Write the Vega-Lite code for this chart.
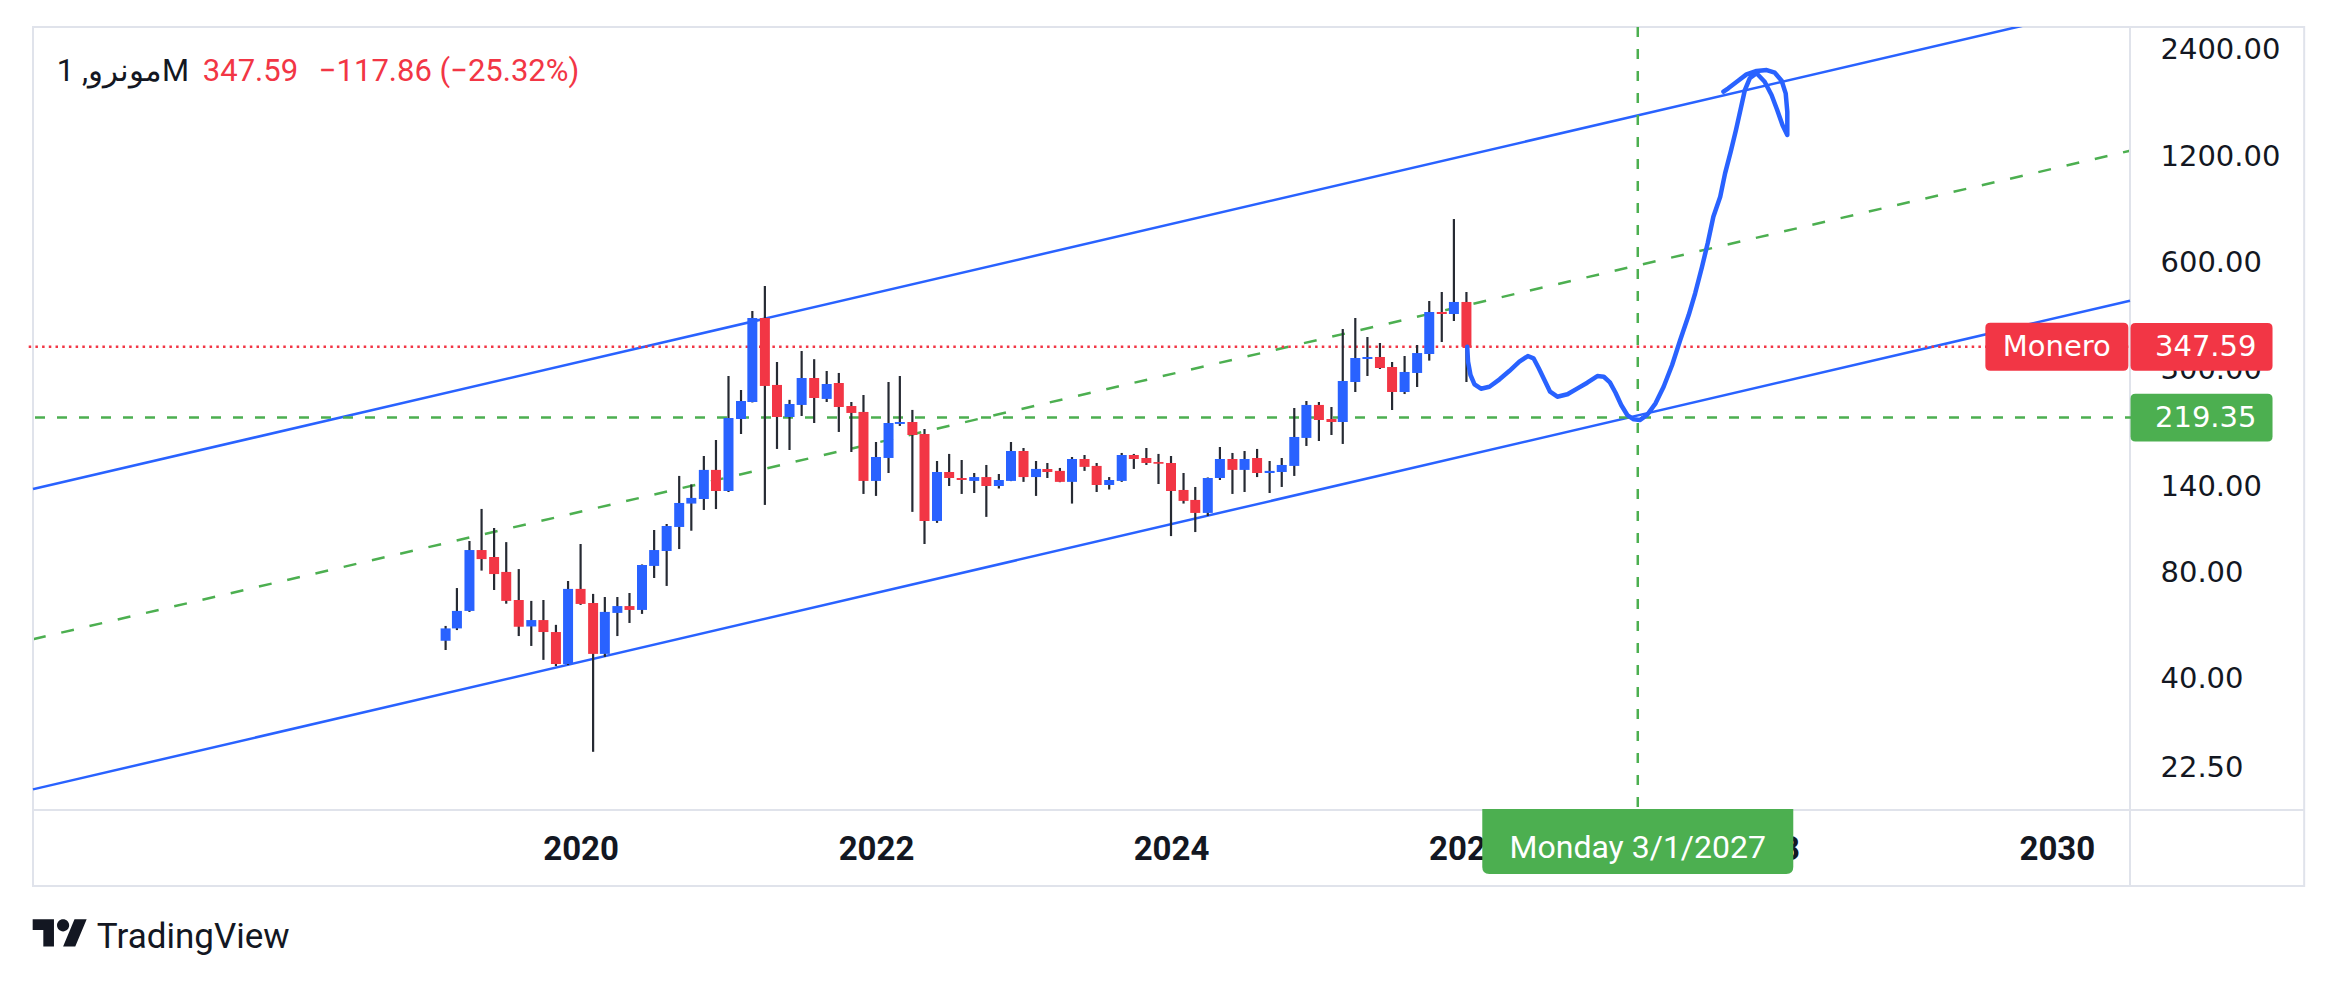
{
  "$schema": "https://vega.github.io/schema/vega-lite/v6.json",
  "width": 2107,
  "height": 783,
  "autosize": {"type": "none"},
  "padding": {"left": 28, "top": 27, "right": 203, "bottom": 172},
  "background": "#ffffff",
  "config": {"view": {"stroke": null}},
  "datasets": {
    "candles": [
      {"date":"2019-02-01","o":51.3,"h":56.5,"l":48.3,"c":55.6},
      {"date":"2019-03-01","o":55.6,"h":72.3,"l":55.0,"c":62.3},
      {"date":"2019-04-01","o":62.3,"h":98.2,"l":61.9,"c":92.6},
      {"date":"2019-05-01","o":92.6,"h":121.0,"l":81.0,"c":87.3},
      {"date":"2019-06-01","o":88.5,"h":106.9,"l":71.4,"c":79.2},
      {"date":"2019-07-01","o":80.3,"h":97.5,"l":65.3,"c":66.5},
      {"date":"2019-08-01","o":66.9,"h":81.8,"l":52.9,"c":56.2},
      {"date":"2019-09-01","o":56.3,"h":66.5,"l":49.6,"c":58.7},
      {"date":"2019-10-01","o":58.7,"h":66.9,"l":45.3,"c":54.3},
      {"date":"2019-11-01","o":54.3,"h":56.9,"l":43.5,"c":44.1},
      {"date":"2019-12-01","o":44.1,"h":75.7,"l":43.8,"c":71.9},
      {"date":"2020-01-01","o":71.9,"h":96.3,"l":64.8,"c":65.2},
      {"date":"2020-02-01","o":65.6,"h":69.6,"l":24.9,"c":47.1},
      {"date":"2020-03-01","o":47.1,"h":68.2,"l":46.2,"c":61.9},
      {"date":"2020-04-01","o":61.5,"h":68.2,"l":52.9,"c":64.3},
      {"date":"2020-05-01","o":64.3,"h":70.0,"l":57.6,"c":62.7},
      {"date":"2020-06-01","o":62.7,"h":84.3,"l":61.1,"c":84.0},
      {"date":"2020-07-01","o":83.5,"h":105.5,"l":77.2,"c":92.6},
      {"date":"2020-08-01","o":92.0,"h":109.7,"l":73.3,"c":108.3},
      {"date":"2020-09-01","o":107.6,"h":150.0,"l":93.2,"c":125.8},
      {"date":"2020-10-01","o":125.3,"h":142.0,"l":105.0,"c":130.0},
      {"date":"2020-11-01","o":129.1,"h":170.8,"l":120.2,"c":156.0},
      {"date":"2020-12-01","o":156.0,"h":189.5,"l":120.9,"c":136.0},
      {"date":"2021-01-01","o":136.0,"h":287.5,"l":135.1,"c":218.7},
      {"date":"2021-02-01","o":217.3,"h":262.4,"l":197.1,"c":244.3},
      {"date":"2021-03-01","o":242.7,"h":438.8,"l":242.0,"c":419.3},
      {"date":"2021-04-01","o":419.3,"h":516.4,"l":124.2,"c":269.4},
      {"date":"2021-05-01","o":271.2,"h":314.9,"l":178.8,"c":220.1},
      {"date":"2021-06-01","o":220.1,"h":246.1,"l":177.6,"c":239.6},
      {"date":"2021-07-01","o":238.1,"h":338.2,"l":221.6,"c":283.7},
      {"date":"2021-08-01","o":283.7,"h":320.7,"l":211.7,"c":249.1},
      {"date":"2021-09-01","o":247.6,"h":297.0,"l":242.7,"c":272.9},
      {"date":"2021-10-01","o":274.7,"h":293.2,"l":199.7,"c":234.9},
      {"date":"2021-11-01","o":236.5,"h":242.7,"l":175.3,"c":226.0},
      {"date":"2021-12-01","o":227.5,"h":254.0,"l":133.4,"c":145.2},
      {"date":"2022-01-01","o":145.2,"h":187.1,"l":131.7,"c":169.7},
      {"date":"2022-02-01","o":168.6,"h":276.5,"l":152.9,"c":211.7},
      {"date":"2022-03-01","o":210.4,"h":287.5,"l":207.7,"c":213.1},
      {"date":"2022-04-01","o":213.1,"h":230.5,"l":118.7,"c":195.8},
      {"date":"2022-05-01","o":197.1,"h":203.6,"l":96.3,"c":111.9},
      {"date":"2022-06-01","o":111.9,"h":165.3,"l":110.5,"c":153.9},
      {"date":"2022-07-01","o":153.9,"h":173.1,"l":140.5,"c":148.0},
      {"date":"2022-08-01","o":148.0,"h":166.4,"l":133.4,"c":146.1},
      {"date":"2022-09-01","o":145.2,"h":152.9,"l":134.2,"c":148.9},
      {"date":"2022-10-01","o":148.9,"h":161.1,"l":114.9,"c":140.5},
      {"date":"2022-11-01","o":140.5,"h":151.9,"l":138.2,"c":146.1},
      {"date":"2022-12-01","o":145.2,"h":187.1,"l":145.0,"c":176.4},
      {"date":"2023-01-01","o":176.4,"h":179.9,"l":144.3,"c":148.9},
      {"date":"2023-02-01","o":148.9,"h":165.3,"l":131.7,"c":157.0},
      {"date":"2023-03-01","o":157.0,"h":163.2,"l":148.0,"c":153.9},
      {"date":"2023-04-01","o":155.0,"h":158.0,"l":144.0,"c":144.3},
      {"date":"2023-05-01","o":144.3,"h":169.7,"l":125.3,"c":167.5},
      {"date":"2023-06-01","o":167.5,"h":171.9,"l":155.0,"c":159.1},
      {"date":"2023-07-01","o":160.1,"h":163.2,"l":135.1,"c":141.4},
      {"date":"2023-08-01","o":141.4,"h":148.9,"l":137.3,"c":146.1},
      {"date":"2023-09-01","o":145.2,"h":174.2,"l":144.3,"c":171.9},
      {"date":"2023-10-01","o":171.9,"h":173.1,"l":157.0,"c":167.5},
      {"date":"2023-11-01","o":168.6,"h":179.9,"l":161.1,"c":163.2},
      {"date":"2023-12-01","o":164.2,"h":173.1,"l":142.3,"c":162.4},
      {"date":"2024-01-01","o":163.2,"h":170.8,"l":101.4,"c":136.0},
      {"date":"2024-02-01","o":136.9,"h":152.9,"l":125.3,"c":127.5},
      {"date":"2024-03-01","o":128.3,"h":139.6,"l":104.1,"c":117.9},
      {"date":"2024-04-01","o":117.9,"h":148.5,"l":115.6,"c":148.0},
      {"date":"2024-05-01","o":148.0,"h":181.1,"l":146.1,"c":167.5},
      {"date":"2024-06-01","o":167.5,"h":174.2,"l":133.4,"c":156.0},
      {"date":"2024-07-01","o":156.0,"h":176.4,"l":135.1,"c":167.5},
      {"date":"2024-08-01","o":168.6,"h":178.8,"l":148.9,"c":152.9},
      {"date":"2024-09-01","o":152.9,"h":165.3,"l":134.2,"c":155.0},
      {"date":"2024-10-01","o":153.9,"h":168.6,"l":139.6,"c":161.1},
      {"date":"2024-11-01","o":160.1,"h":233.4,"l":150.0,"c":193.3},
      {"date":"2024-12-01","o":192.1,"h":244.3,"l":182.3,"c":238.1},
      {"date":"2025-01-01","o":238.1,"h":242.7,"l":188.3,"c":215.9},
      {"date":"2025-02-01","o":217.3,"h":234.9,"l":195.8,"c":213.1},
      {"date":"2025-03-01","o":213.1,"h":390.3,"l":184.7,"c":278.3},
      {"date":"2025-04-01","o":276.4,"h":419.3,"l":259.0,"c":323.2},
      {"date":"2025-05-01","o":321.1,"h":370.5,"l":287.5,"c":325.3},
      {"date":"2025-06-01","o":325.3,"h":356.3,"l":300.8,"c":302.8},
      {"date":"2025-07-01","o":304.8,"h":314.9,"l":230.4,"c":259.0},
      {"date":"2025-08-01","o":259.0,"h":327.4,"l":255.6,"c":295.1},
      {"date":"2025-09-01","o":293.2,"h":351.7,"l":267.6,"c":333.8},
      {"date":"2025-10-01","o":331.7,"h":468.3,"l":317.7,"c":436.0},
      {"date":"2025-11-01","o":436.0,"h":496.6,"l":358.6,"c":430.3},
      {"date":"2025-12-01","o":430.3,"h":798.5,"l":411.2,"c":465.45},
      {"date":"2026-01-01","o":465.45,"h":496.6,"l":276.4,"c":347.59}
    ],
    "channel": [
      {"line":"upper","date":"2016-04-16","price":137.7},
      {"line":"upper","date":"2030-07-01","price":3306},
      {"line":"lower","date":"2016-04-16","price":19.5},
      {"line":"lower","date":"2030-07-01","price":469.2},
      {"line":"middle","date":"2016-04-16","price":51.82},
      {"line":"middle","date":"2030-07-01","price":1245.5}
    ],
    "drawing": [
      {"seq":1,"date":"2026-01-03","price":347.6},
      {"seq":2,"date":"2026-01-05","price":315.5},
      {"seq":3,"date":"2026-01-11","price":289.3},
      {"seq":4,"date":"2026-01-21","price":272.3},
      {"seq":5,"date":"2026-02-06","price":264.6},
      {"seq":6,"date":"2026-02-27","price":268.1},
      {"seq":7,"date":"2026-03-24","price":281.3},
      {"seq":8,"date":"2026-04-17","price":296.9},
      {"seq":9,"date":"2026-05-12","price":315.5},
      {"seq":10,"date":"2026-06-02","price":327.4},
      {"seq":11,"date":"2026-06-16","price":322.5},
      {"seq":12,"date":"2026-06-29","price":302.2},
      {"seq":13,"date":"2026-07-13","price":280.0},
      {"seq":14,"date":"2026-07-27","price":259.5},
      {"seq":15,"date":"2026-08-14","price":251.2},
      {"seq":16,"date":"2026-09-08","price":255.2},
      {"seq":17,"date":"2026-10-03","price":265.3},
      {"seq":18,"date":"2026-10-27","price":275.2},
      {"seq":19,"date":"2026-11-21","price":287.4},
      {"seq":20,"date":"2026-12-07","price":286.1},
      {"seq":21,"date":"2026-12-22","price":275.9},
      {"seq":22,"date":"2027-01-05","price":257.8},
      {"seq":23,"date":"2027-01-19","price":238.0},
      {"seq":24,"date":"2027-02-03","price":223.0},
      {"seq":25,"date":"2027-02-19","price":216.8},
      {"seq":26,"date":"2027-03-06","price":215.8},
      {"seq":27,"date":"2027-03-24","price":223.0},
      {"seq":28,"date":"2027-04-14","price":240.6},
      {"seq":29,"date":"2027-05-04","price":268.1},
      {"seq":30,"date":"2027-05-25","price":308.8},
      {"seq":31,"date":"2027-06-14","price":363.3},
      {"seq":32,"date":"2027-07-05","price":427.5},
      {"seq":33,"date":"2027-07-21","price":492.4},
      {"seq":34,"date":"2027-08-07","price":585.4},
      {"seq":35,"date":"2027-08-21","price":681.8},
      {"seq":36,"date":"2027-09-04","price":810.6},
      {"seq":37,"date":"2027-09-21","price":923.4},
      {"seq":38,"date":"2027-10-03","price":1075},
      {"seq":39,"date":"2027-10-17","price":1238},
      {"seq":40,"date":"2027-10-30","price":1426},
      {"seq":41,"date":"2027-11-11","price":1642},
      {"seq":42,"date":"2027-11-21","price":1849},
      {"seq":43,"date":"2027-12-03","price":1996},
      {"seq":44,"date":"2027-12-20","price":2062},
      {"seq":45,"date":"2028-01-09","price":1952},
      {"seq":46,"date":"2028-01-26","price":1790},
      {"seq":47,"date":"2028-02-09","price":1624},
      {"seq":48,"date":"2028-02-22","price":1473},
      {"seq":49,"date":"2028-03-05","price":1380},
      {"seq":50,"date":"2028-03-05","price":1606},
      {"seq":51,"date":"2028-03-01","price":1810},
      {"seq":52,"date":"2028-02-20","price":1965},
      {"seq":53,"date":"2028-02-03","price":2070},
      {"seq":54,"date":"2028-01-14","price":2106},
      {"seq":55,"date":"2027-12-20","price":2093},
      {"seq":56,"date":"2027-11-25","price":2048},
      {"seq":57,"date":"2027-11-01","price":1952},
      {"seq":58,"date":"2027-10-11","price":1870},
      {"seq":59,"date":"2027-09-29","price":1829}
    ],
    "levels": [
      {"kind":"last","label":"Monero","price":347.59},
      {"kind":"level","label":"","price":219.35}
    ],
    "marker": [
      {"date":"2027-03-01","label":"Monday 3/1/2027"}
    ],
    "legend": [
      {"symbol":"مونرو, 1M","close":"347.59","change":"−117.86 (−25.32%)","brand":"TradingView"}
    ]
  },
  "layer": [
    {
      "data": {"name": "channel"},
      "transform": [{"filter": "datum.line === 'middle'"}],
      "mark": {"type": "line", "color": "#4CAF50", "strokeWidth": 2.5, "strokeDash": [13, 16], "clip": true},
      "encoding": {
        "x": {
          "field": "date", "type": "temporal", "title": null,
          "scale": {"domain": [{"year":2016,"month":4,"date":16},{"year":2030,"month":7,"date":1}], "nice": false},
          "axis": {
            "orient": "bottom", "title": null, "domain": false, "grid": false, "ticks": false,
            "values": [{"year":2020,"month":1,"date":1},{"year":2022,"month":1,"date":1},{"year":2024,"month":1,"date":1},{"year":2026,"month":1,"date":1},{"year":2028,"month":1,"date":1},{"year":2030,"month":1,"date":1}],
            "format": "%Y",
            "labelFont": "Roboto", "labelFontSize": 33, "labelFontWeight": "bold", "labelColor": "#131722",
            "labelPadding": 23, "labelBaseline": "top", "labelAngle": 0, "labelOverlap": false, "labelFlush": false
          }
        },
        "y": {
          "field": "price", "type": "quantitative", "title": null,
          "scale": {"type": "log", "domain": [17.05, 2787], "nice": false},
          "axis": {
            "orient": "right", "title": null, "domain": false, "grid": false, "ticks": false,
            "values": [22.5, 40, 80, 140, 300, 600, 1200, 2400],
            "format": ".2f",
            "labelFont": "DejaVu Sans", "labelFontSize": 29, "labelColor": "#131722",
            "labelPadding": 25, "labelAlign": "left", "labelBaseline": "middle", "labelOverlap": false, "labelFlush": false
          }
        }
      }
    },
    {
      "data": {"name": "legend"},
      "mark": {"type": "rect", "fillOpacity": 0, "stroke": "#E0E3EB", "strokeWidth": 2},
      "encoding": {
        "x": {"datum": {"year":2016,"month":4,"date":16}, "type": "temporal"},
        "x2": {"datum": {"year":2031,"month":9,"date":5}},
        "y": {"datum": 2787, "type": "quantitative"},
        "y2": {"datum": 10.4}
      }
    },
    {
      "data": {"name": "legend"},
      "mark": {"type": "rule", "color": "#E0E3EB", "strokeWidth": 2},
      "encoding": {
        "x": {"datum": {"year":2030,"month":7,"date":1}, "type": "temporal"},
        "y": {"datum": 2787, "type": "quantitative"},
        "y2": {"datum": 10.4}
      }
    },
    {
      "data": {"name": "legend"},
      "mark": {"type": "rule", "color": "#E0E3EB", "strokeWidth": 2},
      "encoding": {
        "x": {"datum": {"year":2016,"month":4,"date":16}, "type": "temporal"},
        "x2": {"datum": {"year":2031,"month":9,"date":5}},
        "y": {"datum": 17.05, "type": "quantitative"}
      }
    },
    {
      "data": {"name": "channel"},
      "transform": [{"filter": "datum.line !== 'middle'"}],
      "mark": {"type": "line", "color": "#2962FF", "strokeWidth": 2.5, "clip": true},
      "encoding": {
        "x": {"field": "date", "type": "temporal", "title": null},
        "y": {"field": "price", "type": "quantitative", "title": null},
        "detail": {"field": "line"}
      }
    },
    {
      "data": {"name": "levels"},
      "transform": [{"filter": "datum.kind === 'level'"}],
      "mark": {"type": "rule", "color": "#4CAF50", "strokeWidth": 2.5, "strokeDash": [10, 12]},
      "encoding": {"y": {"field": "price", "type": "quantitative", "title": null}}
    },
    {
      "data": {"name": "levels"},
      "transform": [{"filter": "datum.kind === 'last'"}],
      "mark": {"type": "rule", "color": "#F23645", "strokeWidth": 2.5, "strokeDash": [2.5, 4.2]},
      "encoding": {"y": {"field": "price", "type": "quantitative", "title": null}}
    },
    {
      "data": {"name": "marker"},
      "mark": {"type": "rule", "color": "#4CAF50", "strokeWidth": 2.5, "strokeDash": [10, 12]},
      "encoding": {"x": {"field": "date", "type": "temporal", "title": null}}
    },
    {
      "data": {"name": "candles"},
      "mark": {"type": "rule", "color": "#262A33", "strokeWidth": 2.2},
      "encoding": {
        "x": {"field": "date", "type": "temporal", "title": null},
        "y": {"field": "l", "type": "quantitative", "title": null},
        "y2": {"field": "h"}
      }
    },
    {
      "data": {"name": "candles"},
      "mark": {"type": "bar", "size": 10},
      "encoding": {
        "x": {"field": "date", "type": "temporal", "title": null},
        "y": {"field": "o", "type": "quantitative", "title": null},
        "y2": {"field": "c"},
        "color": {"condition": {"test": "datum.c >= datum.o", "value": "#2962FF"}, "value": "#F23645"}
      }
    },
    {
      "data": {"name": "drawing"},
      "mark": {"type": "line", "color": "#2962FF", "strokeWidth": 4.5, "strokeCap": "round", "strokeJoin": "round", "interpolate": "linear"},
      "encoding": {
        "x": {"field": "date", "type": "temporal", "title": null},
        "y": {"field": "price", "type": "quantitative", "title": null},
        "order": {"field": "seq"}
      }
    },
    {
      "data": {"name": "levels"},
      "transform": [{"filter": "datum.kind === 'last'"}],
      "mark": {"type": "point", "shape": "M-0.93,-0.336H0.93Q1,-0.336 1,-0.266V0.266Q1,0.336 0.93,0.336H-0.93Q-1,0.336 -1,0.266V-0.266Q-1,-0.336 -0.93,-0.336Z", "filled": true, "opacity": 1, "size": 20449, "color": "#F23645", "strokeWidth": 0},
      "encoding": {
        "x": {"datum": {"year":2030,"month":1,"date":1}, "type": "temporal"},
        "y": {"field": "price", "type": "quantitative", "title": null}
      }
    },
    {
      "data": {"name": "levels"},
      "mark": {"type": "point", "shape": "M-0.93,-0.336H0.93Q1,-0.336 1,-0.266V0.266Q1,0.336 0.93,0.336H-0.93Q-1,0.336 -1,0.266V-0.266Q-1,-0.336 -0.93,-0.336Z", "filled": true, "opacity": 1, "size": 20164, "strokeWidth": 0},
      "encoding": {
        "x": {"datum": {"year":2030,"month":12,"date":25}, "type": "temporal"},
        "y": {"field": "price", "type": "quantitative", "title": null},
        "color": {"condition": {"test": "datum.kind === 'last'", "value": "#F23645"}, "value": "#4CAF50"}
      }
    },
    {
      "data": {"name": "marker"},
      "mark": {"type": "point", "shape": "M-1,-0.209H1V0.164Q1,0.209 0.955,0.209H-0.955Q-1,0.209 -1,0.164Z", "filled": true, "opacity": 1, "size": 96721, "color": "#4CAF50", "strokeWidth": 0},
      "encoding": {
        "x": {"field": "date", "type": "temporal", "title": null},
        "y": {"datum": 13.89, "type": "quantitative"}
      }
    },
    {
      "data": {"name": "levels"},
      "transform": [{"filter": "datum.kind === 'last'"}],
      "mark": {"type": "text", "align": "center", "baseline": "middle", "font": "DejaVu Sans", "fontSize": 29, "color": "#ffffff"},
      "encoding": {
        "x": {"datum": {"year":2030,"month":1,"date":1}, "type": "temporal"},
        "y": {"field": "price", "type": "quantitative", "title": null},
        "text": {"field": "label"}
      }
    },
    {
      "data": {"name": "levels"},
      "mark": {"type": "text", "align": "left", "baseline": "middle", "dx": 25, "font": "DejaVu Sans", "fontSize": 29, "color": "#ffffff"},
      "encoding": {
        "x": {"datum": {"year":2030,"month":7,"date":1}, "type": "temporal"},
        "y": {"field": "price", "type": "quantitative", "title": null},
        "text": {"field": "price", "type": "quantitative", "format": ".2f"}
      }
    },
    {
      "data": {"name": "marker"},
      "mark": {"type": "text", "align": "center", "baseline": "middle", "font": "Roboto", "fontSize": 32, "color": "#ffffff"},
      "encoding": {
        "x": {"field": "date", "type": "temporal", "title": null},
        "y": {"datum": 13.34, "type": "quantitative"},
        "text": {"field": "label"}
      }
    },
    {
      "data": {"name": "legend"},
      "mark": {"type": "text", "align": "left", "baseline": "middle", "font": "Roboto", "fontSize": 31, "color": "#131722"},
      "encoding": {
        "x": {"datum": {"year":2016,"month":6,"date":14}, "type": "temporal"},
        "y": {"datum": 2083, "type": "quantitative"},
        "text": {"field": "symbol"}
      }
    },
    {
      "data": {"name": "legend"},
      "mark": {"type": "text", "align": "left", "baseline": "middle", "dx": 146, "font": "Roboto", "fontSize": 31, "color": "#F23645"},
      "encoding": {
        "x": {"datum": {"year":2016,"month":6,"date":14}, "type": "temporal"},
        "y": {"datum": 2083, "type": "quantitative"},
        "text": {"field": "close"}
      }
    },
    {
      "data": {"name": "legend"},
      "mark": {"type": "text", "align": "left", "baseline": "middle", "dx": 262, "font": "Roboto", "fontSize": 31, "color": "#F23645"},
      "encoding": {
        "x": {"datum": {"year":2016,"month":6,"date":14}, "type": "temporal"},
        "y": {"datum": 2083, "type": "quantitative"},
        "text": {"field": "change"}
      }
    },
    {
      "data": {"name": "legend"},
      "mark": {"type": "point", "shape": "M-0.2113,0.507H-0.6056V-0.1127H-1V-0.507H-0.2113ZM0.5775,0.507L0.1268,0.507L0.5493,-0.507L1,-0.507ZM-0.0986,-0.2817A0.2254,0.2254 0 1 0 0.3522,-0.2817A0.2254,0.2254 0 1 0 -0.0986,-0.2817Z", "filled": true, "opacity": 1, "size": 2916, "color": "#131722", "strokeWidth": 0},
      "encoding": {
        "x": {"datum": {"year":2016,"month":6,"date":21}, "type": "temporal"},
        "y": {"datum": 7.66, "type": "quantitative"}
      }
    },
    {
      "data": {"name": "legend"},
      "mark": {"type": "text", "align": "left", "baseline": "alphabetic", "font": "Roboto", "fontSize": 35, "color": "#131722"},
      "encoding": {
        "x": {"datum": {"year":2016,"month":9,"date":21}, "type": "temporal"},
        "y": {"datum": 6.945, "type": "quantitative"},
        "text": {"field": "brand"}
      }
    }
  ]
}
